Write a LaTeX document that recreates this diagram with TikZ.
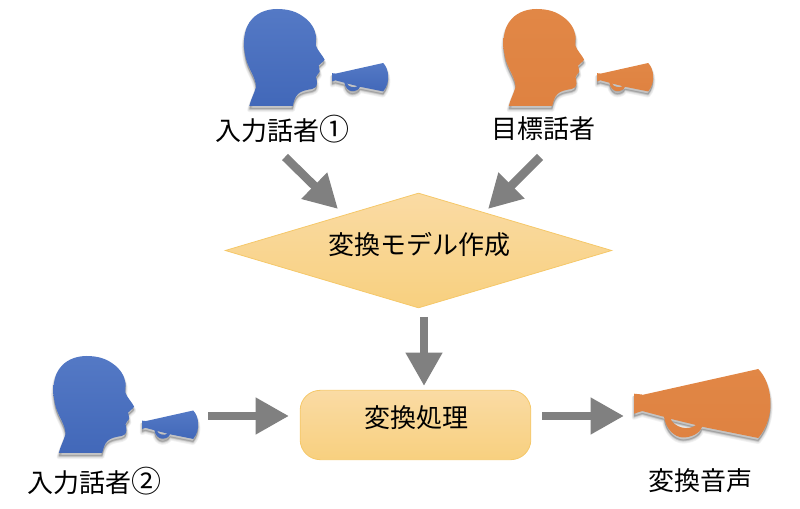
\documentclass[tikz,border=0pt]{standalone}
\usepackage{fontspec}
\setmainfont{Noto Sans CJK JP}
\usetikzlibrary{arrows.meta,shapes.geometric}
\definecolor{bluetop}{HTML}{5479C5}
\definecolor{bluebot}{HTML}{4268B9}
\definecolor{orgtop}{HTML}{E18746}
\definecolor{orgbot}{HTML}{DF8241}
\definecolor{dtop}{HTML}{FADBA4}
\definecolor{dbot}{HTML}{F8D07F}
\definecolor{dline}{HTML}{F5C869}
\colorlet{arrowgray}{black!50}
\newcommand{\bigdigit}[1]{{\fontsize{22.5pt}{23pt}\selectfont #1}}
\newcommand{\headdraw}[2]{#1[#2] (5.3,97) .. controls (7,90) and (10,85) .. (12,78.3)
  .. controls (12,68) and (4,60) .. (1.5,48) .. controls (0,40) and (-0.5,36) .. (0,31)
  .. controls (1,20) and (4,14) .. (9,9) .. controls (15,3) and (24,0) .. (33,0)
  .. controls (45,0) and (53,3) .. (59.3,7.7) .. controls (67,13) and (71,20) .. (72,27)
  .. controls (72.5,31) and (71,34) .. (72,37) .. controls (74,42) and (79,47) .. (80.5,50.5)
  .. controls (80,53) and (76,54) .. (74.7,56.5) .. controls (74.5,59) and (76,60) .. (75.7,62.7)
  .. controls (75,65) and (72,66) .. (72,68.3) .. controls (72,70) and (73.5,71) .. (73,74.3)
  .. controls (72.5,78) and (71,79.5) .. (68,80) .. controls (62,81) and (57,82) .. (54,85)
  .. controls (51,88) and (50,92) .. (48.7,97) -- cycle;}
\newcommand{\megadraw}[2]{#1[even odd rule,#2] (0,24.7) -- (8,25.5) -- (8,26) -- (124.3,0)
  .. controls (138,14) and (143,47) .. (124.3,69) -- (68,57.7)
  .. controls (66,65) and (56,68.5) .. (49,68.5) .. controls (40,68) and (32,60) .. (30,47.8)
  -- (8.3,42) -- (0,44.7) -- cycle
  (36.5,49.8) .. controls (40,58) and (54,62.5) .. (62,56) -- cycle;}
\tikzset{
  txt/.style={font=\fontsize{19.5pt}{23pt}\selectfont,text=black,inner sep=0pt},
  flow/.style={draw=arrowgray,line width=6.4pt,-{Triangle[length=25pt,width=26pt]}},
  shadowlayer/.style={fill=black,draw=black,fill opacity=.05,draw opacity=.05,line join=round},
  decide/.style={diamond,aspect=3.36,minimum width=290pt,minimum height=86.2pt,inner sep=0pt,draw=dline,line width=.6pt,top color=dtop,bottom color=dbot},
  process/.style={rectangle,rounded corners=15pt,minimum width=173pt,minimum height=52pt,inner sep=0pt,draw=dline,line width=.6pt,top color=dtop,bottom color=dbot},
  bluefill/.style={top color=bluetop,bottom color=bluebot},
  orgfill/.style={top color=orgtop,bottom color=orgbot},
}
% figure: drawing macro, style, x, y, scale
\newcommand{\placefig}[5]{%
  \foreach \w/\dy in {3.2/4,2.4/3.6,1.6/3.2,.9/2.8,.1/2.4}{%
    \begin{scope}[shift={(#3,#4+\dy)},x=#5*.75pt,y=-#5*.75pt]
      #1{\path}{shadowlayer,line width=\w pt}
    \end{scope}}
  \begin{scope}[shift={(#3,#4)},x=#5*.75pt,y=-#5*.75pt]
    #1{\shade}{#2}
  \end{scope}}
\begin{document}
\begin{tikzpicture}[x=.75pt,y=-.75pt]
\useasboundingbox (0,0) rectangle (800,509);
\placefig{\headdraw}{bluefill}{244}{9}{1}
\placefig{\megadraw}{bluefill}{332}{63}{.412}
\placefig{\headdraw}{orgfill}{503.5}{9}{1}
\placefig{\megadraw}{orgfill}{597}{63}{.412}
\placefig{\headdraw}{bluefill}{53.5}{356}{1}
\placefig{\megadraw}{bluefill}{142}{410.5}{.412}
\placefig{\megadraw}{orgfill}{634}{369}{1}
% nodes
\node[decide] (model) at (418.5,250.5) {};
\node[txt] (modeltxt) at (419,245) {変換モデル作成};
\node[process] (proc) at (415.5,425) {};
\node[txt] (proctxt) at (416,418) {変換処理};
\node[txt] (in1) at (282.5,129) {入力話者\bigdigit{①}};
\node[txt] (tgt) at (543.5,129) {目標話者};
\node[txt] (in2) at (94,481) {入力話者\bigdigit{②}};
\node[txt] (out) at (700.5,481) {変換音声};
% connector ends
\coordinate (a1) at (285,157); \coordinate (a1e) at (338,209);
\coordinate (a2) at (540,157); \coordinate (a2e) at (488,209);
\coordinate (a3) at (424,317); \coordinate (a3e) at (424,386);
\coordinate (a4) at (208,416); \coordinate (a4e) at (289,416);
\coordinate (a5) at (542,416); \coordinate (a5e) at (624,416);
\draw[flow] (a1) -- (a1e);
\draw[flow] (a2) -- (a2e);
\draw[flow] (a3) -- (a3e);
\draw[flow] (a4) -- (a4e);
\draw[flow] (a5) -- (a5e);
\end{tikzpicture}
\end{document}
